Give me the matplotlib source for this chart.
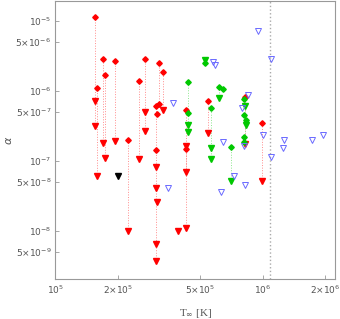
import matplotlib.pyplot as plt
import matplotlib.ticker as mticker

# red: upper points (diamonds), lower points (triangles), dotted links
red_dx = [1.544e5, 1.579e5, 1.699e5, 1.725e5, 1.934e5, 2.228e5, 2.517e5, 2.720e5,
          3.153e5, 3.307e5, 3.05e5, 3.153e5, 3.08e5, 3.04e5, 4.242e5, 4.289e5,
          5.454e5, 8.26e5, 9.87e5]
red_dy = [1.13e-5, 1.10e-6, 2.87e-6, 1.70e-6, 2.69e-6, 1.99e-7, 1.37e-6, 2.87e-6,
          2.47e-6, 1.85e-6, 6.0e-7, 6.42e-7, 4.59e-7, 1.42e-7, 5.32e-7, 1.48e-7,
          7.08e-7, 8.07e-7, 3.42e-7]
red_tx = [1.544e5, 1.544e5, 1.579e5, 1.699e5, 1.725e5, 1.934e5, 2.228e5, 2.517e5,
          2.720e5, 2.720e5, 3.307e5, 3.07e5, 3.07e5, 3.08e5, 3.04e5, 3.04e5,
          4.242e5, 4.242e5, 4.289e5, 3.907e5, 5.454e5, 8.26e5, 9.87e5]
red_ty = [7.15e-7, 3.15e-7, 6.09e-8, 1.82e-7, 1.10e-7, 1.94e-7, 1.0e-8, 1.05e-7,
          4.93e-7, 2.67e-7, 5.32e-7, 8.1e-8, 4.06e-8, 2.57e-8, 6.53e-9, 3.77e-9,
          1.65e-7, 6.95e-8, 1.09e-8, 1.01e-8, 2.47e-7, 1.74e-7, 5.17e-8]
red_lx = [1.544e5, 1.579e5, 1.699e5, 1.725e5, 1.934e5, 2.228e5, 2.517e5, 2.720e5,
          3.153e5, 3.307e5, 3.06e5, 4.242e5, 4.289e5, 5.454e5, 8.26e5, 9.87e5]
red_ltop = [1.13e-5, 1.10e-6, 2.87e-6, 1.70e-6, 2.69e-6, 1.99e-7, 1.37e-6, 2.87e-6,
            2.47e-6, 1.85e-6, 6.0e-7, 5.32e-7, 1.48e-7, 7.08e-7, 8.07e-7, 3.42e-7]
red_lbot = [3.15e-7, 6.09e-8, 1.82e-7, 1.10e-7, 1.94e-7, 1.0e-8, 1.05e-7, 2.67e-7,
            6.42e-7, 5.32e-7, 3.77e-9, 6.95e-8, 1.09e-8, 2.47e-7, 1.74e-7, 5.17e-8]

# green
grn_dx = [4.366e5, 4.366e5, 5.24e5, 5.62e5, 6.162e5, 6.442e5, 7.04e5,
          8.11e5, 8.11e5, 8.32e5, 8.11e5, 8.11e5]
grn_dy = [1.35e-6, 4.9e-7, 2.49e-6, 5.74e-7, 1.12e-6, 1.05e-6, 1.59e-7,
          7.71e-7, 4.47e-7, 3.83e-7, 2.21e-7, 1.88e-7]
grn_tx = [4.366e5, 4.366e5, 5.24e5, 5.62e5, 5.62e5, 6.162e5, 7.04e5, 8.26e5, 8.32e5]
grn_ty = [3.25e-7, 2.61e-7, 2.75e-6, 1.53e-7, 1.05e-7, 7.82e-7, 5.11e-8, 6.07e-7, 3.25e-7]
grn_lx = [4.366e5, 5.62e5, 6.162e5, 7.04e5, 8.2e5]
grn_ltop = [1.35e-6, 5.74e-7, 1.12e-6, 1.59e-7, 7.71e-7]
grn_lbot = [2.61e-7, 1.05e-7, 7.82e-7, 5.11e-8, 1.88e-7]

# blue open triangles
blu_x = [3.696e5, 3.496e5, 5.765e5, 5.875e5, 9.54e5, 1.10e6, 6.442e5, 7.278e5,
         6.30e5, 8.17e5, 8.54e5, 7.93e5, 8.11e5, 1.004e6, 1.094e6, 1.268e6,
         1.254e6, 1.72e6, 1.956e6]
blu_y = [6.63e-7, 4.17e-8, 2.55e-6, 2.33e-6, 7.2e-6, 2.84e-6, 1.84e-7, 6.09e-8,
         3.64e-8, 4.53e-8, 8.57e-7, 5.74e-7, 1.65e-7, 2.32e-7, 1.15e-7, 1.99e-7,
         1.51e-7, 1.99e-7, 2.32e-7]

blk_x = [2.0e5]
blk_y = [6.19e-8]
vline_x = 1.09e6

xticks = [1e5, 2e5, 5e5, 1e6, 2e6]
xlabels = ['$10^5$', r'$2{\times}10^5$', r'$5{\times}10^5$', '$10^6$', r'$2{\times}10^6$']
yticks = [1e-5, 5e-6, 1e-6, 5e-7, 1e-7, 5e-8, 1e-8, 5e-9]
ylabels = ['$10^{-5}$', r'$5{\times}10^{-6}$', '$10^{-6}$', r'$5{\times}10^{-7}$',
           '$10^{-7}$', r'$5{\times}10^{-8}$', '$10^{-8}$', r'$5{\times}10^{-9}$']

fig = plt.figure(figsize=(3.4, 3.19), dpi=100)
ax = fig.add_axes([0.163, 0.1245, 0.822, 0.8725])

ax.axvline(vline_x, color='#aaaaaa', ls=':', lw=1.0)
ax.vlines(red_lx, red_lbot, red_ltop, colors='#ff8c8c', linestyles=':', lw=0.7)
ax.vlines(grn_lx, grn_lbot, grn_ltop, colors='#8ce68c', linestyles=':', lw=0.7)

ax.plot(red_dx, red_dy, 'D', color='red', ms=2.8, ls='none')
ax.plot(red_tx, red_ty, 'v', color='red', ms=3.8, ls='none')
ax.plot(grn_dx, grn_dy, 'D', color='#00c800', ms=2.8, ls='none')
ax.plot(grn_tx, grn_ty, 'v', color='#00c800', ms=3.8, ls='none')
ax.plot(blu_x, blu_y, 'v', mfc='none', mec='#6a6aff', mew=0.7, ms=4, ls='none')
ax.plot(blk_x, blk_y, 'v', color='black', ms=4.2, ls='none')

ax.set_xscale('log')
ax.set_yscale('log')
ax.set_xlim(1e5, 2.23e6)
ax.set_ylim(2.05e-9, 1.91e-5)

ax.xaxis.set_major_locator(mticker.FixedLocator(xticks))
ax.xaxis.set_major_formatter(mticker.FixedFormatter(xlabels))
ax.yaxis.set_major_locator(mticker.FixedLocator(yticks))
ax.yaxis.set_major_formatter(mticker.FixedFormatter(ylabels))
ax.xaxis.set_minor_locator(mticker.NullLocator())
ax.yaxis.set_minor_locator(mticker.NullLocator())
ax.tick_params(direction='in', length=3, width=0.6, color='#999999',
               labelcolor='#555555', labelsize=6.5, pad=3)

for s in ax.spines.values():
    s.set_color('#999999')
    s.set_linewidth(0.8)

ax.set_xlabel(r'T$_\infty$ [K]', family='Liberation Serif', fontsize=8, color='#555555', labelpad=8)
ax.set_ylabel(r'$\alpha$', fontsize=8, color='#555555', labelpad=1)

fig.savefig('out.png', dpi=100)
